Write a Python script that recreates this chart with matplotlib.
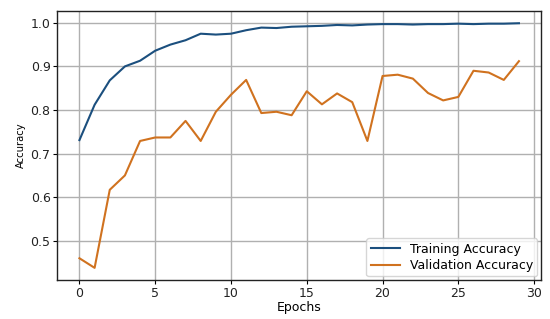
import matplotlib
matplotlib.use("Agg")
import matplotlib.pyplot as plt

epochs = list(range(30))
train_acc = [0.731, 0.812, 0.868, 0.900, 0.913, 0.936, 0.950, 0.960, 0.975, 0.973,
             0.975, 0.983, 0.989, 0.988, 0.991, 0.992, 0.993, 0.995, 0.994, 0.996,
             0.997, 0.997, 0.996, 0.997, 0.997, 0.998, 0.997, 0.998, 0.998, 0.999]
val_acc = [0.460, 0.438, 0.617, 0.650, 0.729, 0.737, 0.737, 0.775, 0.729, 0.796,
           0.835, 0.869, 0.793, 0.796, 0.788, 0.843, 0.813, 0.838, 0.818, 0.729,
           0.878, 0.881, 0.872, 0.839, 0.822, 0.830, 0.890, 0.886, 0.869, 0.912]
x_ticks = [0, 5, 10, 15, 20, 25, 30]
y_ticks = [0.5, 0.6, 0.7, 0.8, 0.9, 1.0]

fig = plt.figure(figsize=(5.5, 3.19), dpi=100)
ax = fig.add_axes([0.1045, 0.122, 0.879, 0.8435])
ax.plot(epochs, train_acc, color="#1b4f7e", lw=1.5, label="Training Accuracy")
ax.plot(epochs, val_acc, color="#d0721f", lw=1.5, label="Validation Accuracy")
ax.set_xticks(x_ticks)
ax.set_yticks(y_ticks)
ax.set_yticklabels([f"{v:.1f}" for v in y_ticks])
ax.tick_params(labelsize=9, length=3, width=0.8, pad=2, labelcolor="#222222")
ax.grid(True, color="#b0b0b0", lw=1.0)
for s in ax.spines.values():
    s.set_linewidth(1.0)
    s.set_color("#222222")
ax.set_xlabel("Epochs", fontsize=9, labelpad=1)
ax.set_ylabel("Accuracy", fontsize=8, labelpad=3, fontstretch="condensed")
ax.legend(loc="lower right", fontsize=9, handlelength=2.3, borderpad=0.35,
          labelspacing=0.25, framealpha=0.8, borderaxespad=0.3)
fig.savefig("out.png", dpi=100)
